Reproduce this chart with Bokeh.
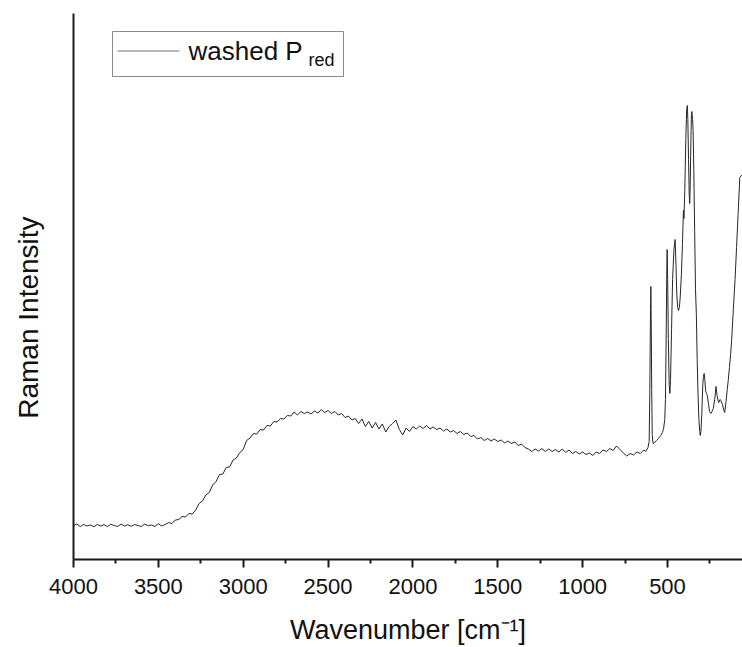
from bokeh.plotting import figure
from bokeh.models import Range1d, FixedTicker, Label
from bokeh.embed import file_html
from bokeh.resources import INLINE

# ---------------- data ----------------
wavenumber = [
    4000, 3980, 3960, 3940, 3920, 3900, 3880, 3860, 3840, 3820,
    3800, 3780, 3760, 3740, 3720, 3700, 3680, 3660, 3640, 3620,
    3600, 3580, 3560, 3540, 3520, 3500, 3480, 3460, 3440, 3420,
    3400, 3380, 3360, 3340, 3320, 3300, 3280, 3260, 3240, 3220,
    3200, 3180, 3160, 3140, 3120, 3100, 3080, 3060, 3040, 3020,
    3000, 2980, 2960, 2940, 2920, 2900, 2880, 2860, 2840, 2820,
    2800, 2780, 2760, 2740, 2720, 2700, 2680, 2660, 2640, 2620,
    2600, 2580, 2560, 2540, 2520, 2500, 2480, 2460, 2440, 2420,
    2400, 2380, 2360, 2340, 2320, 2300, 2280, 2260, 2240, 2220,
    2200, 2180, 2160, 2140, 2120, 2100, 2080, 2060, 2040, 2020,
    2000, 1980, 1960, 1940, 1920, 1900, 1880, 1860, 1840, 1820,
    1800, 1780, 1760, 1740, 1720, 1700, 1680, 1660, 1640, 1620,
    1600, 1580, 1560, 1540, 1520, 1500, 1480, 1460, 1440, 1420,
    1400, 1380, 1360, 1340, 1320, 1300, 1280, 1260, 1240, 1220,
    1200, 1180, 1160, 1140, 1120, 1100, 1080, 1060, 1040, 1020,
    1000, 980, 960, 940, 920, 900, 880, 860, 840, 820,
    800, 780, 760, 740, 720, 700, 680, 660, 640,
    628, 615, 608, 604, 600, 598, 596, 593, 590, 585,
    575, 565, 553, 540, 530, 523, 516, 512, 508, 504,
    502, 499, 495, 490, 486, 482, 476, 470, 462, 455,
    450, 445, 440, 435, 430, 425, 418, 412, 406, 403,
    398, 392, 387, 383, 380, 376, 372, 369, 366, 362,
    359, 356, 352, 349, 345, 340, 335, 330, 325, 320,
    315, 310, 307, 303, 298, 292, 288, 284, 280, 275,
    270, 265, 258, 252, 245, 238, 230, 222, 214, 208,
    202, 198, 191, 185, 176, 168, 163, 155, 148, 142,
    135, 128, 122, 112, 102, 93, 84, 74, 58,
]

intensity = [
    34, 35.5, 33, 35, 33.5, 34.5, 32.8, 35, 33.5, 34.8,
    33, 35.2, 34, 33, 35.5, 33.5, 34.8, 33.2, 35, 34,
    33, 35.5, 33.8, 34.5, 33, 35.8, 33.5, 35, 37, 36,
    39.5, 40, 43, 42.5, 46, 45.5, 49.5, 56, 58.5, 64.5,
    67, 74.5, 78, 85, 85.5, 92, 92.5, 99.5, 101.5, 107,
    110, 119, 121.5, 126, 125.5, 130, 129.5, 134, 133.5, 138,
    137.5, 141, 140.5, 144, 143.5, 147.5, 144.5, 148, 146, 147.5,
    145.5, 148.5, 146.5, 150, 147, 149, 146, 148, 144.5, 146,
    142, 143.5, 139.5, 141, 136, 140.5, 133, 138, 131.5, 137,
    130.5, 135.5, 127.5, 133, 136, 139.5, 130, 124.5, 131.5, 128,
    133, 130.5, 133.5, 131, 134, 130.5, 132.5, 130, 131.5, 128.5,
    130.5, 127.5, 129, 126, 128, 125, 126.5, 123, 124, 120.5,
    122, 119, 121, 118.5, 120.5, 118, 119.5, 116.5, 118.5, 116,
    117.5, 114, 115.5, 112, 110.5, 108, 110.5, 108.5, 111, 108,
    110.5, 108, 110, 107.5, 110.5, 107, 109.5, 106, 108, 105.5,
    107.5, 105, 106.5, 104, 107.5, 106, 109.5, 108, 111, 109,
    113.5, 110, 106.5, 103.5, 106, 104.5, 107.5, 106, 109.5,
    108, 112, 118, 170, 250, 273, 240, 170, 125, 116,
    117, 119, 121, 124, 127, 131, 140, 160, 220, 290,
    310, 280, 220, 175, 166, 180, 230, 280, 310, 320,
    295, 265, 252, 249, 252, 262, 285, 315, 349, 341,
    370, 420, 450, 454, 440, 400, 365, 356, 375, 420,
    445, 448, 440, 429, 390, 330, 270, 246, 200, 165,
    140, 128, 124, 128, 145, 175, 183, 186, 180, 168,
    166, 164, 155, 148, 146, 148, 151, 160, 173, 164,
    159, 157, 160, 159, 155, 149, 147, 158, 170, 179,
    192, 205, 219, 250, 280, 312, 345, 382, 385,
]

major_ticks = [4000, 3500, 3000, 2500, 2000, 1500, 1000, 500]
minor_ticks = [3750, 3250, 2750, 2250, 1750, 1250, 750, 250]

x_title = "Wavenumber [cm\u207b\u00b9]"
# trailing no-break spaces push the (centred) rotated title down, as in the reference
y_title = "Raman Intensity" + "\u00a0" * 8
legend_label = "washed P"
legend_sub = "red"

# ---------------- layout ----------------
W, H = 742, 647
L, R, T, B = 73, 742, 13, 559          # frame edges in pixels
X_START, X_END = 4000, 58
Y_BOTTOM, Y_TOP = 0, 546
FONT = "Liberation Sans"


def dx(px):
    return X_START + (px - L) / (R - L) * (X_END - X_START)


def dy(py):
    return Y_BOTTOM + (B - py) / (B - T) * (Y_TOP - Y_BOTTOM)


p = figure(width=W, height=H, output_backend="svg", toolbar_location=None,
           x_range=Range1d(X_START, X_END), y_range=Range1d(Y_BOTTOM, Y_TOP),
           min_border_left=L, min_border_right=W - R,
           min_border_top=T, min_border_bottom=H - B)

p.grid.visible = False
p.outline_line_color = None
p.background_fill_color = "white"
p.border_fill_color = "white"

p.line(wavenumber, intensity, line_color="#262626", line_width=1)

# x axis
xa = p.xaxis[0]
xa.ticker = FixedTicker(ticks=major_ticks, minor_ticks=minor_ticks)
xa.axis_line_width = 2
xa.axis_line_color = "#1a1a1a"
xa.major_tick_line_width = 2
xa.minor_tick_line_width = 2
xa.major_tick_line_color = "#1a1a1a"
xa.minor_tick_line_color = "#1a1a1a"
xa.major_tick_in = 0
xa.major_tick_out = 8
xa.minor_tick_in = 0
xa.minor_tick_out = 4
xa.major_label_text_font = FONT
xa.major_label_text_font_size = "22px"
xa.major_label_text_color = "#111111"
xa.major_label_standoff = 11
xa.axis_label = x_title
xa.axis_label_text_font = FONT
xa.axis_label_text_font_size = "27px"
xa.axis_label_text_font_style = "normal"
xa.axis_label_text_color = "#111111"
xa.axis_label_standoff = 18

# y axis
ya = p.yaxis[0]
ya.ticker = FixedTicker(ticks=[])
ya.axis_line_width = 2
ya.axis_line_color = "#1a1a1a"
ya.major_tick_line_color = None
ya.minor_tick_line_color = None
ya.major_label_text_font_size = "0px"
ya.axis_label = y_title
ya.axis_label_text_font = FONT
ya.axis_label_text_font_size = "28px"
ya.axis_label_text_font_style = "normal"
ya.axis_label_text_color = "#111111"
ya.axis_label_standoff = 30

# legend (drawn by hand for the subscript)
p.quad(left=[dx(112)], right=[dx(343)], top=[dy(31)], bottom=[dy(76)],
       fill_color="white", line_color="#8a8a8a", line_width=1)
p.line([dx(117), dx(179)], [dy(50.5), dy(50.5)], line_color="#6e6e6e", line_width=1)
p.add_layout(Label(x=dx(188), y=dy(50), text=legend_label, text_font=FONT,
                   text_font_size="26px", text_color="#111111",
                   text_baseline="middle", text_align="left"))
p.add_layout(Label(x=dx(308), y=dy(59.5), text=legend_sub, text_font=FONT,
                   text_font_size="18px", text_color="#111111",
                   text_baseline="middle", text_align="left"))

open("out.html", "w").write(file_html(p, INLINE))
